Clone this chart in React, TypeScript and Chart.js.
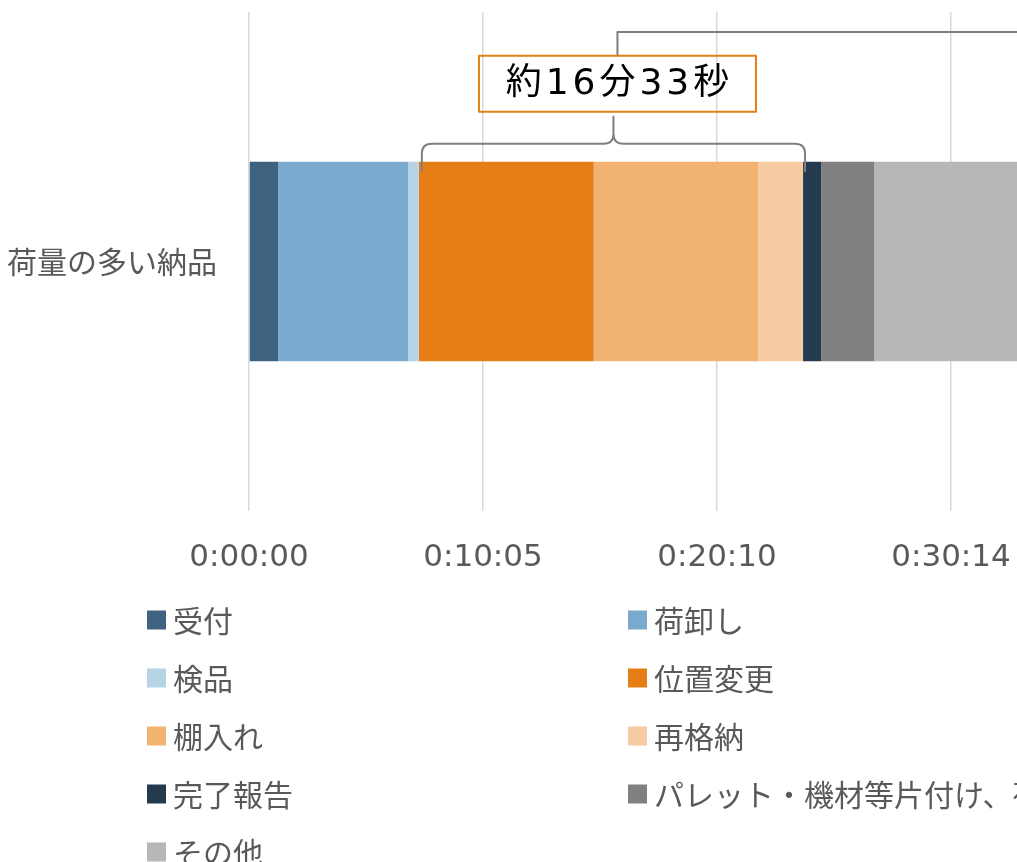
import React, { useEffect, useRef } from "react";
import { Chart, registerables } from "chart.js";

Chart.register(...registerables);

// ---- data ----
const categories = ["荷量の多い納品"];
const seriesLabels = [
  "受付",
  "荷卸し",
  "検品",
  "位置変更",
  "棚入れ",
  "再格納",
  "完了報告",
  "パレット・機材等片付け、荷ほどき",
  "その他",
];
// durations in seconds
const seriesValues = [75, 336, 28, 452, 425, 116, 47, 137, 600];
const seriesColors = [
  "#3F6280",
  "#7AAACE",
  "#B7D3E6",
  "#E67E17",
  "#F2B272",
  "#F6CBA1",
  "#243A4F",
  "#808080",
  "#B7B7B7",
];
const axisMaxSeconds = 2419.2; // 0.028 day
const axisStepSeconds = 604.8; // 0.007 day
const bracketFirst = 3; // 位置変更
const bracketLast = 5; // 再格納

const pad2 = (n: number) => (n < 10 ? "0" + n : "" + n);
const fmtTime = (v: number) => {
  const s = Math.round(v);
  const h = Math.floor(s / 3600);
  const m = Math.floor((s % 3600) / 60);
  const ss = s % 60;
  return `${h}:${pad2(m)}:${pad2(ss)}`;
};
const sum = (a: number[]) => a.reduce((p, c) => p + c, 0);

const JP = '"Noto Sans CJK JP", "Noto Sans", sans-serif';

const annotationPlugin = {
  id: "bracketAnnotation",
  afterDatasetsDraw(chart: any) {
    const { ctx, chartArea } = chart;
    const xs = chart.scales.x;
    const el = chart.getDatasetMeta(bracketFirst).data[0];
    if (!el) return;
    const p = el.getProps(["y", "height"], true);
    const barTop = p.y - p.height / 2;
    const startVal = sum(seriesValues.slice(0, bracketFirst));
    const endVal = sum(seriesValues.slice(0, bracketLast + 1));
    const total = sum(seriesValues.slice(bracketFirst, bracketLast + 1));
    const xL = xs.getPixelForValue(startVal) + 3;
    const xR = xs.getPixelForValue(endVal) + 2;
    const xM = (xL + xR) / 2;
    const yH = barTop - 18;
    const yEnd = barTop + 10;
    const yPeak = barTop - 46;
    const r = 10;

    ctx.save();
    ctx.strokeStyle = "#7F7F7F";
    ctx.lineWidth = 2;
    ctx.lineJoin = "round";
    ctx.beginPath();
    ctx.moveTo(xL, yEnd);
    ctx.lineTo(xL, yH + r);
    ctx.quadraticCurveTo(xL, yH, xL + r, yH);
    ctx.lineTo(xM - r, yH);
    ctx.quadraticCurveTo(xM, yH, xM, yH - r);
    ctx.lineTo(xM, yPeak);
    ctx.moveTo(xM, yH - r);
    ctx.quadraticCurveTo(xM, yH, xM + r, yH);
    ctx.lineTo(xR - r, yH);
    ctx.quadraticCurveTo(xR, yH, xR, yH + r);
    ctx.lineTo(xR, yEnd);
    ctx.stroke();

    // connector line going up and to the right
    const cx = xM + 4;
    const boxW = 277;
    const boxH = 56;
    const boxTop = barTop - 106;
    ctx.beginPath();
    ctx.moveTo(cx, boxTop);
    ctx.lineTo(cx, chartArea.top + 20);
    ctx.lineTo(chart.width, chartArea.top + 20);
    ctx.stroke();

    // label box
    ctx.strokeStyle = "#E67E17";
    ctx.lineWidth = 2;
    ctx.strokeRect(cx - boxW / 2, boxTop, boxW, boxH);

    const label = `約${Math.floor(total / 60)}分${total % 60}秒`;
    ctx.fillStyle = "#000000";
    ctx.font = `36px "DejaVu Sans", ${JP}`;
    (ctx as any).letterSpacing = "4px";
    ctx.textAlign = "center";
    ctx.textBaseline = "middle";
    ctx.fillText(label, cx + 2, boxTop + boxH / 2 + 1);
    ctx.restore();
  },
};

const legendPlugin = {
  id: "gridLegend",
  afterDraw(chart: any) {
    const { ctx, chartArea } = chart;
    const colX = [147, 628];
    const firstY = chartArea.bottom + 109;
    const rowH = 58;
    ctx.save();
    ctx.font = `30px ${JP}`;
    ctx.textAlign = "left";
    ctx.textBaseline = "middle";
    chart.data.datasets.forEach((ds: any, i: number) => {
      const col = i % 2;
      const row = Math.floor(i / 2);
      const x = colX[col];
      const y = firstY + row * rowH;
      ctx.fillStyle = ds.backgroundColor;
      ctx.fillRect(x, y - 9.5, 19, 19);
      ctx.fillStyle = "#595959";
      ctx.fillText(ds.label, x + 26, y + 1);
    });
    ctx.restore();
  },
};

export default function App() {
  const ref = useRef<HTMLCanvasElement | null>(null);
  useEffect(() => {
    if (!ref.current) return;
    const chart = new Chart(ref.current, {
      type: "bar",
      data: {
        labels: categories,
        datasets: seriesLabels.map((label, i) => ({
          label,
          data: [seriesValues[i]],
          backgroundColor: seriesColors[i],
          borderWidth: 0,
          categoryPercentage: 0.4,
          barPercentage: 1,
        })),
      },
      options: {
        indexAxis: "y",
        responsive: false,
        animation: false,
        layout: { padding: { top: 12, right: 75, bottom: 299, left: 0 } },
        plugins: {
          legend: { display: false },
          tooltip: { enabled: false },
          title: { display: false },
        },
        scales: {
          x: {
            type: "linear",
            stacked: true,
            min: 0,
            max: axisMaxSeconds,
            afterFit: (s: any) => {
              s.height = 90;
              s.paddingLeft = 0;
              s.paddingRight = 0;
            },
            ticks: {
              stepSize: axisStepSeconds,
              callback: (v: any) => fmtTime(Number(v)),
              color: "#595959",
              font: { family: '"DejaVu Sans"', size: 31 },
              padding: 28,
              maxRotation: 0,
              autoSkip: false,
            },
            grid: { color: "#D9D9D9", lineWidth: 1.5, drawTicks: false },
            border: { display: false },
          },
          y: {
            type: "category",
            stacked: true,
            afterFit: (s: any) => {
              s.width = 249;
              s.paddingTop = 0;
              s.paddingBottom = 0;
            },
            ticks: {
              color: "#595959",
              font: { family: JP, size: 30 },
              padding: 32,
            },
            grid: { display: false, drawTicks: false },
            border: { display: false },
          },
        },
      },
      plugins: [annotationPlugin, legendPlugin],
    } as any);
    return () => chart.destroy();
  }, []);

  return (
    <div
      style={{
        position: "fixed",
        left: 0,
        top: 0,
        width: 1017,
        height: 862,
        overflow: "hidden",
        background: "#ffffff",
      }}
    >
      <canvas ref={ref} width={1260} height={900} style={{ display: "block" }} />
    </div>
  );
}
